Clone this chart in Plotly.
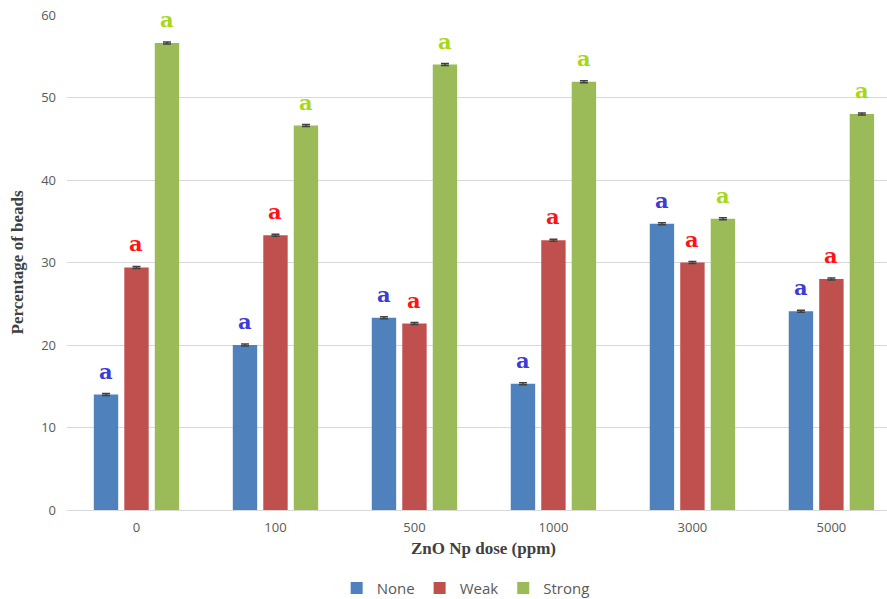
import plotly.graph_objects as go

# ZnO nanoparticle dose groups (ppm)
doses = ["0", "100", "500", "1000", "3000", "5000"]

# Percentage of beads per class
none_pct = [14.0, 20.0, 23.3, 15.3, 34.7, 24.1]
weak_pct = [29.4, 33.3, 22.6, 32.7, 30.0, 28.0]
strong_pct = [56.6, 46.6, 54.0, 51.9, 35.3, 48.0]

# Standard errors (very small)
none_err = [0.12, 0.12, 0.12, 0.12, 0.12, 0.12]
weak_err = [0.12, 0.12, 0.12, 0.12, 0.12, 0.12]
strong_err = [0.12, 0.12, 0.12, 0.12, 0.12, 0.12]

# Significance letters
none_sig = ["a"] * 6
weak_sig = ["a"] * 6
strong_sig = ["a"] * 6

series = [
    ("None", none_pct, none_err, none_sig, "#4F81BD", "#3b3bd6"),
    ("Weak", weak_pct, weak_err, weak_sig, "#C0504D", "#ff1414"),
    ("Strong", strong_pct, strong_err, strong_sig, "#9BBB59", "#a6d816"),
]

BARGAP = 0.342
GROUPGAP = 0.2
xpos = list(range(len(doses)))

fig = go.Figure()
annotations = []
slot = (1 - BARGAP) / len(series)
for i, (name, vals, errs, sig, col, sigcol) in enumerate(series):
    fig.add_trace(go.Bar(
        name=name, x=xpos, y=vals,
        marker=dict(color=col, line=dict(width=0)),
        error_y=dict(type="data", array=errs, visible=True,
                     color="#404040", thickness=1.5, width=4),
    ))
    offset = (i - (len(series) - 1) / 2) * slot
    for x, v, s in zip(xpos, vals, sig):
        annotations.append(dict(
            x=x + offset, y=v, xref="x", yref="y", text=s, showarrow=False,
            yanchor="bottom", yshift=9,
            font=dict(family="DejaVu Serif", size=21, color=sigcol, weight="bold"),
        ))

plot_w = 887 - 67
annotations.append(dict(
    x=2.5, y=-0.077, xref="x", yref="paper", text="<b>ZnO Np dose (ppm)</b>",
    showarrow=False, yanchor="middle",
    font=dict(family="Liberation Serif", size=17, color="#404040"),
))
annotations.append(dict(
    x=-(67 - 17) / plot_w, y=0.5, xref="paper", yref="paper",
    text="<b>Percentage of beads</b>", textangle=-90, showarrow=False,
    xanchor="center", yanchor="middle",
    font=dict(family="Liberation Serif", size=17, color="#404040"),
))

fig.update_layout(
    width=887, height=599,
    margin=dict(l=67, r=0, t=15, b=89),
    paper_bgcolor="white", plot_bgcolor="white",
    barmode="group", bargap=BARGAP, bargroupgap=GROUPGAP,
    font=dict(family="Open Sans", color="#595959"),
    annotations=annotations,
    legend=dict(
        orientation="h", xref="container", yref="container",
        x=0.525, xanchor="center", y=0.018, yanchor="middle",
        font=dict(size=15, color="#595959"), traceorder="normal",
        itemwidth=30, tracegroupgap=0,
    ),
    xaxis=dict(
        tickmode="array", tickvals=xpos, ticktext=doses,
        range=[-0.5, 5.4], showgrid=False, zeroline=False,
        showline=False, ticks="", ticklabelstandoff=8,
        tickfont=dict(size=13, color="#595959"),
    ),
    yaxis=dict(
        range=[0, 60], dtick=10, showgrid=True, gridcolor="#d9d9d9",
        gridwidth=1, zeroline=True, zerolinecolor="#d9d9d9", zerolinewidth=1,
        showline=False, ticks="", ticklabelstandoff=10,
        tickfont=dict(size=13, color="#595959"),
    ),
)

fig.write_html("out.html")
